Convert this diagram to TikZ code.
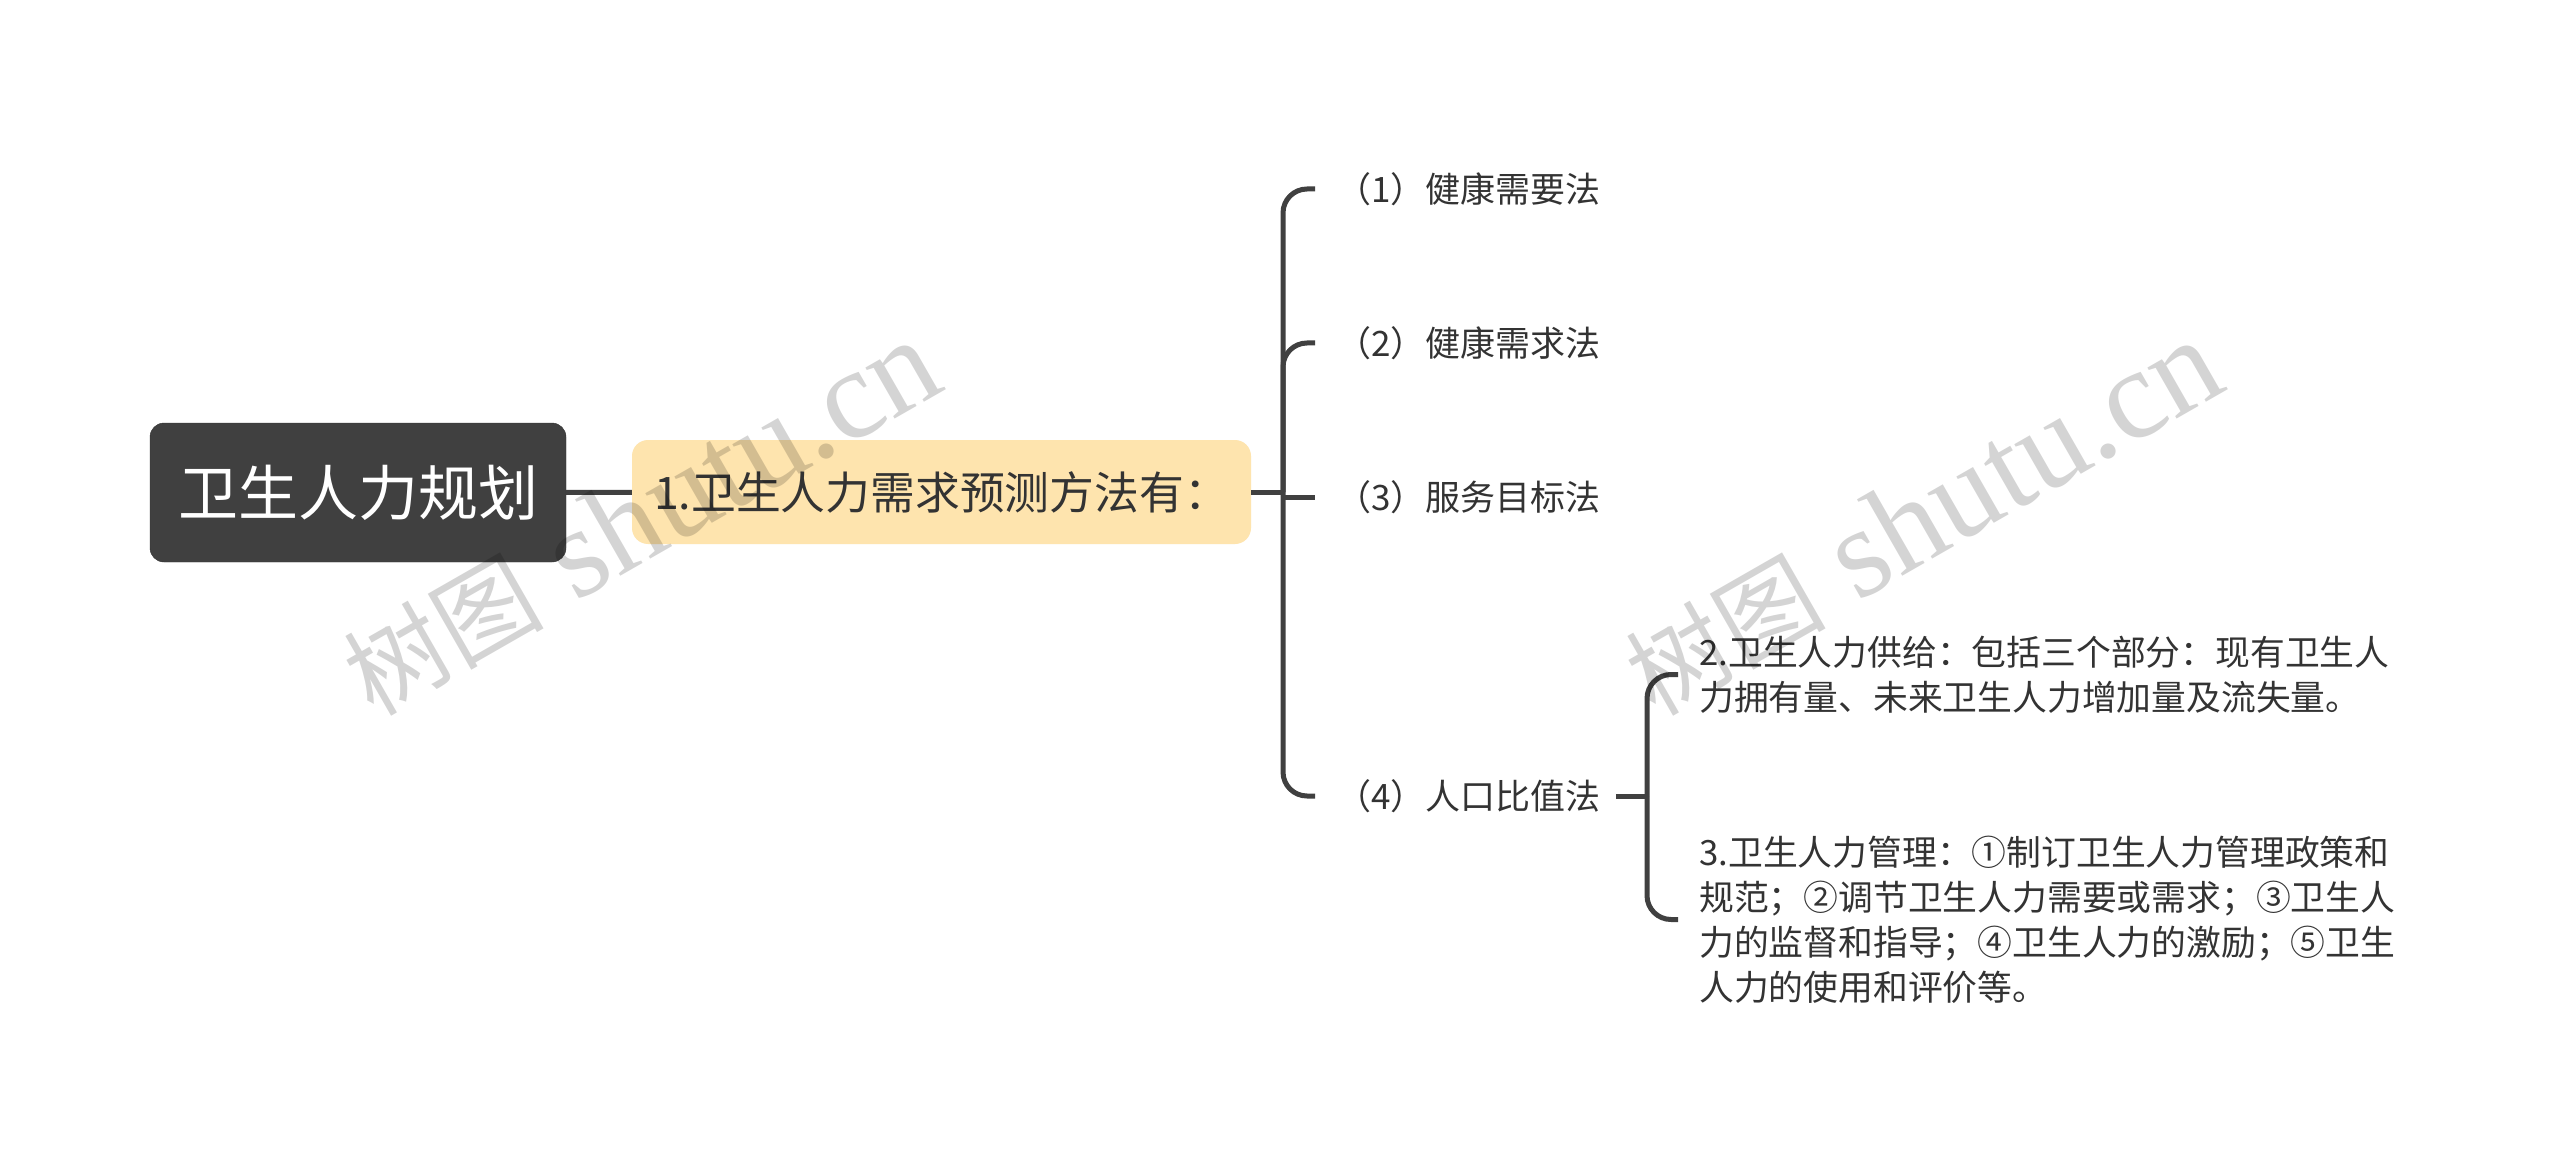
\documentclass[tikz,border=0pt]{standalone}
\usepackage{fontspec}
\setmainfont{Noto Sans CJK SC}
\newfontfamily\latinserif{Liberation Serif}
\definecolor{sombre}{HTML}{404040}
\definecolor{jaune}{HTML}{FEE4AE}
\definecolor{encre}{HTML}{333333}
\begin{document}
\begin{tikzpicture}[x=1pt,y=-1pt]
    \tikzset{racine/.style={draw=encre, fill=sombre, text=white, rounded corners=14pt, minimum width=416pt, minimum height=139pt, inner sep=0pt, font=\fontsize{60}{72}\selectfont}}
    \tikzset{sujet/.style={fill=jaune, text=encre, rounded corners=16pt, minimum width=619pt, minimum height=104pt, inner sep=0pt, font=\fontsize{44.8}{54}\selectfont}}
    \tikzset{feuille/.style={anchor=west, text=encre, inner sep=0pt, font=\fontsize{35}{45}\selectfont}}
    \tikzset{bloc/.style={anchor=west, text=encre, inner sep=0pt, font=\fontsize{34.8}{45}\selectfont, align=left}}
    \tikzset{lien/.style={draw=sombre, line width=5pt, rounded corners=24pt}}
    \tikzset{filigrane/.style={text=black, text opacity=0.17, rotate=29.8, inner sep=0pt}}
    \path[use as bounding box, fill=white] (0,0) rectangle (2560,1174);
    \node[racine] (R) at (358, 492.5) {卫生人力规划};
    \node[sujet] (S) at (941.5, 492) {1.卫生人力需求预测方法有：};
    \node[feuille] (F1) at (1336, 189) {（1）健康需要法};
    \node[feuille] (F2) at (1336, 343) {（2）健康需求法};
    \node[feuille] (F3) at (1336, 497) {（3）服务目标法};
    \node[feuille] (F4) at (1336, 796) {（4）人口比值法};
    \node[bloc] (B1) at (1699, 674.5) {2.卫生人力供给：包括三个部分：现有卫生人\\力拥有量、未来卫生人力增加量及流失量。};
    \node[bloc] (B2) at (1699, 919.5) {3.卫生人力管理：①制订卫生人力管理政策和\\规范；②调节卫生人力需要或需求；③卫生人\\力的监督和指导；④卫生人力的激励；⑤卫生\\人力的使用和评价等。};
    \coordinate (H1) at (1283, 492);
    \coordinate (H2) at (1647, 796);
    \draw[lien] (R) -- (S);
    \draw[lien] (S) -- (H1);
    \draw[lien] (H1) |- ([xshift=-21pt]F1.west);
    \draw[lien] (H1) |- ([xshift=-21pt]F2.west);
    \draw[lien] (H1 |- F3.west) -- ([xshift=-21pt]F3.west);
    \draw[lien] (H1) |- ([xshift=-21pt]F4.west);
    \draw[lien] ([xshift=15pt]F4.east) -- (H2);
    \draw[lien] (H2) |- ([xshift=-21pt]B1.west);
    \draw[lien] (H2) |- ([xshift=-21pt]B2.west);
    \node[filigrane] (W1) at (641, 518) {\fontsize{100}{120}\selectfont 树图\latinserif\fontsize{128}{140}\selectfont{} shutu.cn};
    \node[filigrane] (W2) at (1923, 518) {\fontsize{100}{120}\selectfont 树图\latinserif\fontsize{128}{140}\selectfont{} shutu.cn};
\end{tikzpicture}
\end{document}
